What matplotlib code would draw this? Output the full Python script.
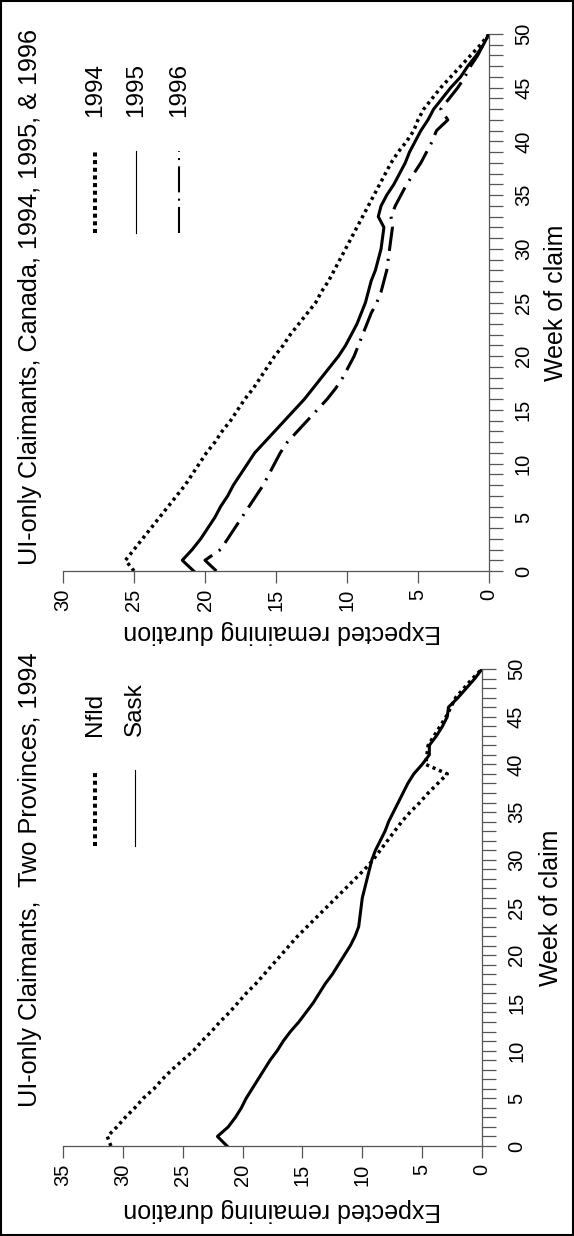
import matplotlib
matplotlib.use("Agg")
import matplotlib.pyplot as plt
from matplotlib.lines import Line2D
from matplotlib.patches import Rectangle
from matplotlib.ticker import MultipleLocator
from matplotlib import font_manager

# week of claim 0..50
weeks = list(range(51))

# Canada, expected remaining duration by week of claim
canada_1994 = [25.0, 25.6, 25.0, 24.4, 23.8, 23.2, 22.6, 22.0, 21.4, 20.9,
               20.4, 19.9, 19.3, 18.8, 18.2, 17.7, 17.2, 16.6, 16.1, 15.6,
               15.1, 14.5, 14.0, 13.4, 12.8, 12.2, 11.8, 11.3, 10.9, 10.5,
               10.1, 9.7, 9.3, 8.9, 8.5, 8.1, 7.7, 7.3, 6.9, 6.4,
               5.8, 5.3, 5.0, 4.6, 4.0, 3.4, 2.7, 2.0, 1.3, 0.6, 0.0]
canada_1995 = [20.8, 21.6, 20.9, 20.3, 19.8, 19.3, 18.9, 18.4, 18.0, 17.5,
               17.0, 16.5, 15.8, 15.1, 14.4, 13.7, 13.0, 12.4, 11.8, 11.2,
               10.6, 10.1, 9.7, 9.3, 9.0, 8.7, 8.5, 8.3, 8.0, 7.8,
               7.6, 7.5, 7.4, 7.8, 7.6, 7.2, 6.7, 6.3, 5.9, 5.6,
               5.2, 4.8, 4.3, 3.9, 3.3, 2.7, 2.0, 1.5, 0.9, 0.4, 0.0]
canada_1996 = [19.2, 20.0, 18.9, 18.4, 17.9, 17.4, 16.9, 16.4, 15.9, 15.5,
               15.1, 14.7, 14.2, 13.5, 12.8, 12.1, 11.4, 10.8, 10.3, 9.9,
               9.5, 9.2, 8.9, 8.6, 8.3, 7.9, 7.6, 7.4, 7.2, 7.1,
               7.0, 6.9, 6.8, 6.9, 6.6, 6.2, 5.8, 5.3, 4.8, 4.4,
               4.0, 3.7, 2.9, 3.4, 2.8, 2.2, 1.7, 1.3, 0.8, 0.4, 0.0]

# Two provinces, 1994
nfld_1994 = [31.0, 31.3, 30.5, 29.8, 29.0, 28.3, 27.4, 26.7, 25.9, 25.0,
             24.1, 23.4, 22.6, 21.9, 21.1, 20.4, 19.7, 18.9, 18.2, 17.5,
             16.8, 16.1, 15.4, 14.6, 13.8, 13.0, 12.2, 11.4, 10.6, 9.8,
             9.1, 8.5, 7.9, 7.3, 6.7, 6.0, 5.2, 4.5, 3.7, 2.9,
             4.7, 4.6, 4.5, 4.0, 3.5, 3.0, 2.6, 2.2, 1.5, 0.8, 0.0]
sask_1994 = [21.3, 22.1, 21.2, 20.6, 20.1, 19.7, 19.2, 18.7, 18.2, 17.7,
             17.1, 16.6, 16.0, 15.3, 14.7, 14.1, 13.6, 13.1, 12.5, 12.0,
             11.5, 11.0, 10.6, 10.3, 10.2, 10.1, 10.0, 9.8, 9.6, 9.4,
             9.2, 8.9, 8.5, 8.1, 7.8, 7.4, 7.0, 6.6, 6.2, 5.7,
             5.0, 4.4, 4.4, 3.8, 3.3, 2.9, 2.8, 2.0, 1.3, 0.6, 0.0]

plt.rcParams['font.family'] = ['Liberation Sans', 'DejaVu Sans']

# narrow font for tick labels if there is one
try:
    font_manager.findfont(font_manager.FontProperties(family='Liberation Sans Narrow'),
                          fallback_to_default=False)
    tick_family, tick_size = 'Liberation Sans Narrow', 16
except Exception:
    tick_family, tick_size = 'Liberation Sans', 14.5

W, H = 574, 1236
fig = plt.figure(figsize=(W / 100, H / 100), dpi=100)


def fx(px):
    return px / W


def fy(py):
    return 1 - py / H


AXC = '#555555'
DOT = (0, (0.9, 1.1))
DASHDOT = (0, (8.0, 2.6, 0.7, 2.6))


def setup(ax, vmax, xlab_x, xlab_y, ylab_x):
    ax.set_xlim(vmax, 0)
    ax.set_ylim(0, 50)
    ax.spines['top'].set_visible(False)
    ax.spines['left'].set_visible(False)
    for s in ['bottom', 'right']:
        ax.spines[s].set_color(AXC)
        ax.spines[s].set_linewidth(0.9)
    ax.xaxis.set_major_locator(MultipleLocator(5))
    ax.yaxis.set_major_locator(MultipleLocator(5))
    ax.yaxis.set_minor_locator(MultipleLocator(1))
    ax.yaxis.tick_right()
    ax.tick_params(axis='x', direction='out', length=8.6, width=0.9, color=AXC,
                   pad=4, labelrotation=90, labelsize=tick_size,
                   labelfontfamily=tick_family)
    ax.tick_params(axis='y', which='both', direction='out', length=10, width=0.9,
                   color=AXC, pad=8, labelrotation=90, labelsize=tick_size,
                   labelfontfamily=tick_family)
    for lab in ax.get_yticklabels():
        lab.set_va('center')
    ax.set_xlabel('Expected remaining duration', fontsize=18, rotation=180)
    ax.xaxis.label.set(ha='center', va='center', rotation_mode='default')
    ax.xaxis.set_label_coords(xlab_x, xlab_y)
    ax.yaxis.set_label_position('right')
    ax.set_ylabel('Week of claim', fontsize=18, rotation=90)
    ax.yaxis.label.set(ha='center', va='center', rotation_mode='default')
    ax.yaxis.set_label_coords(ylab_x, 0.5)


# top panel: Canada
ax1 = fig.add_axes([fx(63), fy(571), fx(489) - fx(63), fy(34) - fy(571)])
ax1.plot(canada_1994, weeks, color='black', lw=2.5, linestyle=DOT)
ax1.plot(canada_1995, weeks, color='black', lw=2.2, solid_joinstyle='round')
ax1.plot(canada_1996, weeks, color='black', lw=2.2, linestyle=DASHDOT)
setup(ax1, 30, 0.515, -0.114, 1.157)

# bottom panel: two provinces
ax2 = fig.add_axes([fx(63), fy(1146), fx(482) - fx(63), fy(669) - fy(1146)])
ax2.plot(nfld_1994, weeks, color='black', lw=2.5, linestyle=DOT)
ax2.plot(sask_1994, weeks, color='black', lw=2.2, solid_joinstyle='round')
setup(ax2, 35, 0.524, -0.134, 1.165)

# titles
fig.text(fx(30), fy(565), 'UI-only Claimants, Canada, 1994, 1995, & 1996',
         rotation=90, ha='center', va='bottom', fontsize=18.2)
fig.text(fx(30), fy(1107), 'UI-only Claimants,  Two Provinces, 1994',
         rotation=90, ha='center', va='bottom', fontsize=18.2)


# hand-made legends (sample line below, label above, all rotated)
def key(xp, y0, y1, label, lw, ls):
    fig.add_artist(Line2D([fx(xp), fx(xp)], [fy(y1), fy(y0)], transform=fig.transFigure,
                          color='black', lw=lw, linestyle=ls))
    fig.text(fx(xp), fy(y0 - 34), label, rotation=90, ha='center', va='bottom',
             fontsize=17.5)


key(95, 151, 233, '1994', 2.9, (0, (1.0, 0.9)))
key(136, 151, 233, '1995', 0.8, '-')
key(179, 151, 233, '1996', 1.5, (0, (12.5, 3.0, 1.0, 3.0)))
key(95, 770, 846, 'Nfld', 2.9, (0, (1.0, 0.9)))
key(135, 770, 846, 'Sask', 0.8, '-')

# frame round the whole picture
fig.add_artist(Rectangle((0.002, 0.001), 0.996, 0.998, transform=fig.transFigure,
                         fill=False, edgecolor='black', lw=1.5))

fig.savefig('out.png', dpi=100)
